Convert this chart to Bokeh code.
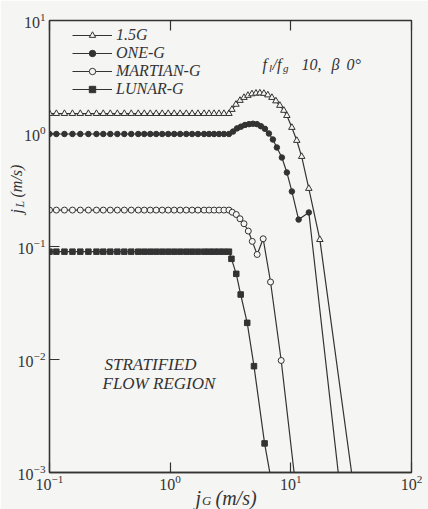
import math
from bokeh.plotting import figure
from bokeh.models import (Range1d, LogAxis, FixedTicker, Legend, LegendItem, Label,
                          ColumnDataSource, CustomJSTickFormatter)
from bokeh.embed import file_html
from bokeh.resources import INLINE

# ---------------- data ----------------
X_TICKS = [0.1, 1, 10, 100]
Y_TICKS = [0.001, 0.01, 0.1, 1, 10]

FLAT_X = [0.100, 0.114, 0.133, 0.155, 0.180, 0.210, 0.245, 0.279, 0.319, 0.365,
          0.417, 0.476, 0.544, 0.610, 0.684, 0.766, 0.859, 0.963, 1.08, 1.21,
          1.36, 1.52, 1.70, 1.91, 2.10, 2.31, 2.54, 2.79, 3.07]

G15_FLAT_Y = [1.50, 1.50, 1.50, 1.50, 1.50, 1.50, 1.50, 1.50, 1.50, 1.50,
              1.50, 1.50, 1.50, 1.50, 1.50, 1.50, 1.50, 1.50, 1.50, 1.50,
              1.50, 1.50, 1.50, 1.50, 1.50, 1.50, 1.50, 1.50, 1.50]
G15_CURVE_X = [3.25, 3.51, 3.79, 4.09, 4.41, 4.76, 5.14, 5.54, 5.98, 6.45, 6.97,
               7.52, 8.11, 8.75, 9.27, 10.2, 11.2, 12.3, 14.1, 17.4, 32.8]
G15_CURVE_Y = [1.63, 1.81, 1.96, 2.08, 2.17, 2.24, 2.27, 2.28, 2.26, 2.19, 2.08,
               1.94, 1.77, 1.60, 1.44, 1.13, 0.867, 0.625, 0.326, 0.115, 0.0008]

ONE_FLAT_Y = [0.99, 0.99, 0.99, 0.99, 0.99, 0.99, 0.99, 0.99, 0.99, 0.99,
              0.99, 0.99, 0.99, 0.99, 0.99, 0.99, 0.99, 0.99, 0.99, 0.99,
              0.99, 0.99, 0.99, 0.99, 0.99, 0.99, 0.99, 0.99, 0.99]
ONE_CURVE_X = [3.32, 3.58, 3.86, 4.17, 4.50, 4.85, 5.24, 5.65, 6.10, 6.58, 7.10,
               7.66, 8.43, 9.27, 10.2, 11.6, 14.1, 25.3]
ONE_CURVE_Y = [1.04, 1.11, 1.15, 1.19, 1.21, 1.22, 1.21, 1.16, 1.10, 1.00, 0.885,
               0.752, 0.613, 0.452, 0.307, 0.173, 0.200, 0.0008]

MAR_FLAT_Y = [0.21, 0.21, 0.21, 0.21, 0.21, 0.21, 0.21, 0.21, 0.21, 0.21,
              0.21, 0.21, 0.21, 0.21, 0.21, 0.21, 0.21, 0.21, 0.21, 0.21,
              0.21, 0.21, 0.21, 0.21, 0.21, 0.21, 0.21, 0.21, 0.21]
MAR_CURVE_X = [3.27, 3.53, 3.79, 4.09, 4.44, 4.79, 5.26, 5.90, 6.79, 8.32, 10.9]
MAR_CURVE_Y = [0.201, 0.192, 0.176, 0.159, 0.137, 0.111, 0.085, 0.117, 0.0485, 0.0098, 0.0008]

LUN_FLAT_Y = [0.09, 0.09, 0.09, 0.09, 0.09, 0.09, 0.09, 0.09, 0.09, 0.09,
              0.09, 0.09, 0.09, 0.09, 0.09, 0.09, 0.09, 0.09, 0.09, 0.09,
              0.09, 0.09, 0.09, 0.09, 0.09, 0.09, 0.09, 0.09, 0.09]
LUN_CURVE_X = [3.22, 3.53, 3.84, 4.35, 4.95, 6.06, 6.95]
LUN_CURVE_Y = [0.0778, 0.0573, 0.0376, 0.0211, 0.00873, 0.00181, 0.0008]

SERIES_NAMES = ["1.5G", "ONE-G", "MARTIAN-G", "LUNAR-G"]

# ---------------- styling ----------------
BG = "#f5f5f3"
INK = "#333333"
SERIF = "Liberation Serif"

# frame in page pixels: x 49..411, y 20..472
p = figure(width=428, height=509, x_axis_type="log", y_axis_type="log",
           x_range=Range1d(0.1, 100), y_range=Range1d(0.001, 10),
           output_backend="svg", toolbar_location=None,
           min_border_left=49, min_border_right=17, min_border_top=20, min_border_bottom=37,
           background_fill_color=BG, border_fill_color=BG)
p.grid.visible = False
p.outline_line_color = INK
p.outline_line_width = 1.3

for ax, ticks in ((p.below[0], X_TICKS), (p.left[0], Y_TICKS)):
    ax.ticker = FixedTicker(ticks=ticks)
    ax.major_tick_in = 10
    ax.major_tick_out = 0
    ax.minor_tick_in = 0
    ax.minor_tick_out = 0
    ax.axis_line_color = INK
    ax.axis_line_width = 1.3
    ax.major_tick_line_color = INK
    ax.major_tick_line_width = 1.2
    ax.major_label_text_font = SERIF
    ax.major_label_text_font_size = "16px"
    ax.major_label_text_color = INK
p.below[0].major_label_standoff = 2
p.left[0].major_label_standoff = 4

top = LogAxis(ticker=FixedTicker(ticks=X_TICKS),
              formatter=CustomJSTickFormatter(code="return ''"),
              major_label_standoff=0, axis_line_color=None,
              major_tick_in=10, major_tick_out=0, minor_tick_in=0, minor_tick_out=0,
              major_tick_line_color=INK, major_tick_line_width=1.2)
p.add_layout(top, "above")


def series(xs, ys, marker, filled, size):
    src = ColumnDataSource(dict(x=xs, y=ys))
    ln = p.line("x", "y", source=src, line_color=INK, line_width=1.2)
    sc = p.scatter("x", "y", source=src, marker=marker, size=size,
                   line_color=INK, line_width=1.0,
                   fill_color=INK if filled else BG)
    return [ln, sc]


r15 = series(FLAT_X + G15_CURVE_X, G15_FLAT_Y + G15_CURVE_Y, "triangle", False, 6.5)
r1 = series(FLAT_X + ONE_CURVE_X, ONE_FLAT_Y + ONE_CURVE_Y, "circle", True, 5.5)
rm = series(FLAT_X + MAR_CURVE_X, MAR_FLAT_Y + MAR_CURVE_Y, "circle", False, 6)
rl = series(FLAT_X + LUN_CURVE_X, LUN_FLAT_Y + LUN_CURVE_Y, "square", True, 5.5)

legend = Legend(items=[LegendItem(label=n, renderers=r)
                       for n, r in zip(SERIES_NAMES, [r15, r1, rm, rl])],
                location=(23, 374), margin=0, padding=0, spacing=0,
                glyph_width=40, glyph_height=16, label_height=16, label_standoff=4,
                label_text_font=SERIF, label_text_font_style="italic",
                label_text_font_size="16px", label_text_color=INK,
                border_line_color=None, background_fill_alpha=0)
p.add_layout(legend)


# page-pixel position -> data position (for text placement inside the frame)
def at(px, py):
    return (10 ** (-1 + (px - 49) * 3 / 362), 10 ** (1 - (py - 20) * 4 / 452))


def text(px, py, s, size):
    x, y = at(px, py)
    p.add_layout(Label(x=x, y=y, text=s, text_font=SERIF, text_font_style="italic",
                       text_font_size=size, text_color=INK, text_align="left",
                       text_baseline="alphabetic"))


# condition annotation
text(262, 64, "f", "16px")
text(268.5, 67, "l", "11px")
text(272, 64, "/f", "16px")
text(282.5, 67, "g", "11px")
text(301, 64, "10,", "16px")
text(331, 64, "β", "16px")
text(346, 64, "0°", "16px")

# region annotation
text(104, 364, "STRATIFIED", "17px")
text(102, 383, "FLOW REGION", "17px")

# ---------------- transparent overlay for the axis titles ----------------
# (annotations inside a plot are clipped to its frame, so the axis titles with
#  subscripts live on a page-sized transparent canvas laid over the chart)
ov = figure(width=428, height=509, x_range=Range1d(0, 428), y_range=Range1d(509, 0),
            output_backend="svg", toolbar_location=None,
            x_axis_location=None, y_axis_location=None, min_border=0,
            background_fill_alpha=0, border_fill_alpha=0, outline_line_color=None,
            styles={"position": "absolute", "left": "0px", "top": "0px"})
ov.grid.visible = False


def otext(px, py, s, size, angle=0.0):
    ov.add_layout(Label(x=px, y=py, text=s, text_font=SERIF, text_font_style="italic",
                        text_font_size=size, text_color=INK, text_align="left",
                        text_baseline="alphabetic", angle=angle))


# x-axis title: j_G (m/s)
otext(195, 497, "j", "20px")
otext(201.5, 500, "G", "13px")
otext(215, 497, "(m/s)", "20px")

# y-axis title: j_L (m/s), reading upwards
otext(16, 213, "j", "16px", angle=math.pi / 2)
otext(19, 207, "L", "12px", angle=math.pi / 2)
otext(16, 197, "(m/s)", "16px", angle=math.pi / 2)

open("out.html", "w").write(file_html([p, ov], INLINE))
